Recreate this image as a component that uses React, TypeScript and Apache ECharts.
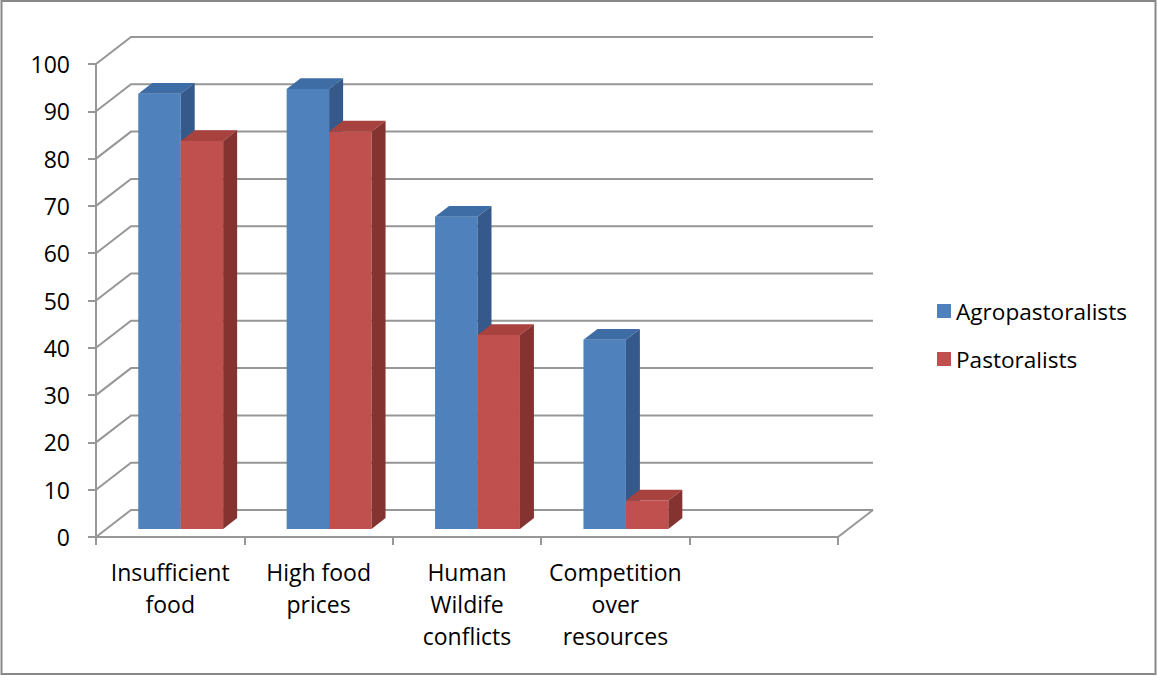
import React, { useEffect, useRef } from "react";
import * as echarts from "echarts";

// Categories along the floor of the 3D plot (last slot left empty)
const categories = [
  "Insufficient\nfood",
  "High food\nprices",
  "Human\nWildife\nconflicts",
  "Competition\nover\nresources",
];
const axisSlots = [...categories, ""];

// Percent of respondents per group
const agropastoralists = [92, 93, 66, 40];
const pastoralists = [82, 84, 41, 6];

// Value axis ticks
const yTicks = [0, 10, 20, 30, 40, 50, 60, 70, 80, 90, 100];

// Oblique projection of the depth axis (front plane -> back wall)
const DEPTH_X = 35;
const DEPTH_Y = -27;
// Depth range occupied by the bar boxes (fraction of floor depth)
const BAR_FRONT = 0.3;
const BAR_BACK = 0.7;
// Bar width as a share of a category band
const BAR_RATIO = 0.286;

const GRID_COLOR = "#979797";
const FONT = "'Open Sans', sans-serif";

type Palette = { front: string; top: string; side: string };

const BLUE: Palette = { front: "#4F81BD", top: "#3E6CA5", side: "#35598A" };
const RED: Palette = { front: "#C0504D", top: "#A8423F", side: "#843331" };

function barRenderer(slot: number, pal: Palette) {
  return (_params: any, api: any) => {
    const i = api.value(0);
    const v = api.value(1);
    const base = api.coord([i, 0]);
    const peak = api.coord([i, v]);
    const band = api.size([1, 0])[0];
    const w = band * BAR_RATIO;
    const fx = DEPTH_X * BAR_FRONT;
    const fy = DEPTH_Y * BAR_FRONT;
    const sx = DEPTH_X * (BAR_BACK - BAR_FRONT);
    const sy = DEPTH_Y * (BAR_BACK - BAR_FRONT);
    const x0 = base[0] - w + slot * w + fx;
    const x1 = x0 + w;
    const yb = base[1] + fy;
    const yt = peak[1] + fy;
    return {
      type: "group",
      children: [
        {
          type: "rect",
          shape: { x: x0, y: yt, width: w, height: yb - yt },
          style: { fill: pal.front },
        },
        {
          type: "polygon",
          shape: {
            points: [
              [x0, yt],
              [x0 + sx, yt + sy],
              [x1 + sx, yt + sy],
              [x1, yt],
            ],
          },
          style: { fill: pal.top },
        },
        {
          type: "polygon",
          shape: {
            points: [
              [x1, yt],
              [x1 + sx, yt + sy],
              [x1 + sx, yb + sy],
              [x1, yb],
            ],
          },
          style: { fill: pal.side },
        },
      ],
    };
  };
}

function wallRenderer(_params: any, api: any) {
  const v = api.value(1);
  const band = api.size([1, 0])[0];
  const first = api.coord([0, v]);
  const last = api.coord([axisSlots.length - 1, v]);
  const xl = first[0] - band / 2;
  const xr = last[0] + band / 2;
  const y = first[1];
  const lineStyle = { stroke: GRID_COLOR, lineWidth: 2, fill: "none" };
  const children: any[] = [
    {
      type: "polyline",
      shape: {
        points: [
          [xl, y],
          [xl + DEPTH_X, y + DEPTH_Y],
          [xr + DEPTH_X, y + DEPTH_Y],
        ],
      },
      style: lineStyle,
    },
  ];
  if (v === 0) {
    children.push({
      type: "line",
      shape: { x1: xr, y1: y, x2: xr + DEPTH_X, y2: y + DEPTH_Y },
      style: lineStyle,
    });
  }
  return { type: "group", children };
}

export default function App() {
  const ref = useRef<HTMLDivElement>(null);

  useEffect(() => {
    if (!ref.current) return;
    const chart = echarts.init(ref.current, undefined, { renderer: "svg" });
    chart.setOption({
      animation: false,
      backgroundColor: "#ffffff",
      textStyle: { fontFamily: FONT },
      grid: { left: 96, right: 319, top: 64, bottom: 139 },
      legend: {
        data: ["Agropastoralists", "Pastoralists"],
        orient: "vertical",
        left: 932,
        top: 294,
        icon: "rect",
        itemWidth: 14,
        itemHeight: 14,
        itemGap: 24,
        textStyle: { fontSize: 22.6, lineHeight: 24, color: "#000", fontFamily: FONT },
      },
      xAxis: {
        type: "category",
        data: axisSlots,
        axisLine: { show: true, lineStyle: { color: GRID_COLOR, width: 2 } },
        axisTick: { show: true, length: 8, lineStyle: { color: GRID_COLOR, width: 2 } },
        axisLabel: {
          interval: 0,
          margin: 19,
          fontSize: 23,
          lineHeight: 32,
          color: "#000",
          fontFamily: FONT,
        },
        splitLine: { show: false },
      },
      yAxis: {
        type: "value",
        min: 0,
        max: 100,
        interval: 10,
        axisLine: { show: true, lineStyle: { color: GRID_COLOR, width: 2 } },
        axisTick: { show: true, length: 8, lineStyle: { color: GRID_COLOR, width: 2 } },
        axisLabel: { margin: 26, fontSize: 23, color: "#000", fontFamily: FONT },
        splitLine: { show: false },
      },
      graphic: [
        {
          type: "rect",
          shape: { x: 1.5, y: 1, width: 1154, height: 673 },
          style: { fill: "none", stroke: "#888888", lineWidth: 2 },
          z: 100,
        },
      ],
      series: [
        {
          type: "custom",
          name: "wall",
          clip: false,
          z: 1,
          renderItem: wallRenderer,
          data: yTicks.map((v) => [0, v]),
          silent: true,
        },
        {
          type: "custom",
          name: "Agropastoralists",
          clip: false,
          z: 2,
          itemStyle: { color: BLUE.front },
          renderItem: barRenderer(0, BLUE),
          data: agropastoralists.map((v, i) => [i, v]),
        },
        {
          type: "custom",
          name: "Pastoralists",
          clip: false,
          z: 3,
          itemStyle: { color: RED.front },
          renderItem: barRenderer(1, RED),
          data: pastoralists.map((v, i) => [i, v]),
        },
      ],
    });
    return () => chart.dispose();
  }, []);

  return (
    <div
      ref={ref}
      style={{ position: "absolute", left: 0, top: 0, width: 1157, height: 676 }}
    />
  );
}
